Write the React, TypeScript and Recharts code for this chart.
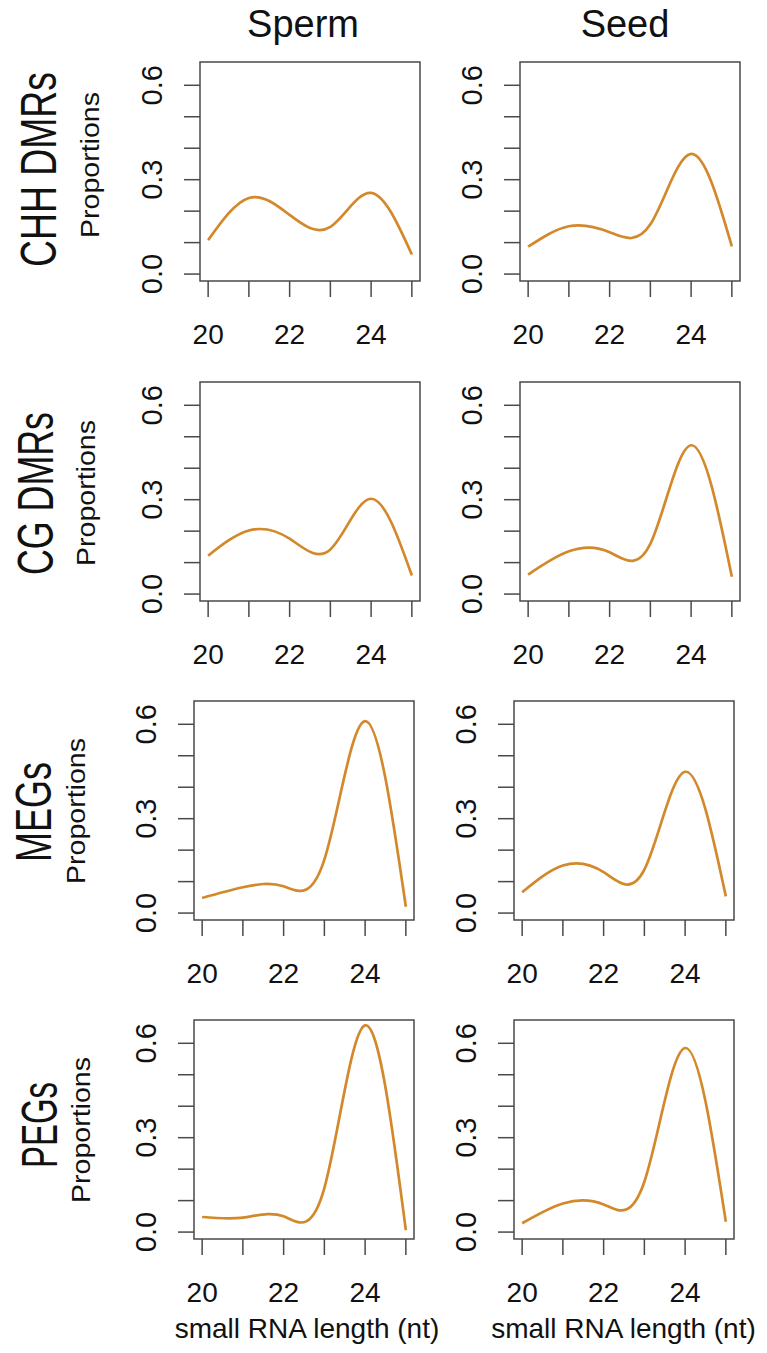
import React from 'react';
import { LineChart, Line, XAxis, YAxis, ReferenceArea } from 'recharts';

// ---- data ----
const lengths = [20, 21, 22, 23, 24, 25];
const spermCHH = [0.108, 0.242, 0.188, 0.15, 0.258, 0.062];
const seedCHH = [0.087, 0.152, 0.133, 0.158, 0.382, 0.088];
const spermCG = [0.122, 0.202, 0.176, 0.142, 0.303, 0.059];
const seedCG = [0.062, 0.136, 0.133, 0.16, 0.473, 0.055];
const spermMEG = [0.048, 0.082, 0.085, 0.17, 0.61, 0.02];
const seedMEG = [0.066, 0.151, 0.13, 0.138, 0.449, 0.053];
const spermPEG = [0.048, 0.046, 0.05, 0.14, 0.657, 0.006];
const seedPEG = [0.028, 0.091, 0.088, 0.16, 0.585, 0.033];

const xTicks = [20, 21, 22, 23, 24, 25];
const xLabels = [20, 22, 24];
const yTicks = [0, 0.1, 0.2, 0.3, 0.4, 0.5, 0.6];
const yLabels = [0, 0.3, 0.6];
const columnTitles = ['Sperm', 'Seed'];
const rowTitles = ['CHH DMRs', 'CG DMRs', 'MEGs', 'PEGs'];
const yAxisTitle = 'Proportions';
const xAxisTitle = 'small RNA length (nt)';

const rowSeries = [
  [spermCHH, seedCHH],
  [spermCG, seedCG],
  [spermMEG, seedMEG],
  [spermPEG, seedPEG],
];

// ---- styles / layout ----
const FONT = '"Liberation Sans", Arial, Helvetica, sans-serif';
const LINE = '#D3892B';
const FRAME = '#4a4a4a';
const X_DOMAIN: [number, number] = [19.8, 25.2];
const Y_DOMAIN: [number, number] = [-0.022, 0.674];

const YW = 80;
const XH = 80;
const MT = 2;
const MR = 3;
const PW = 220;
const PH = 219;

const rowLayout = [
  { lefts: [200, 520], top: 61.7 },
  { lefts: [200, 520], top: 381.7 },
  { lefts: [194, 514.3], top: 701 },
  { lefts: [194, 514.3], top: 1020 },
];
const rowTitleLayout = [
  { bx: 56, cy: 169.5, len: 195 },
  { bx: 53, cy: 493.5, len: 163 },
  { bx: 51, cy: 812, len: 100 },
  { bx: 57, cy: 1125, len: 86 },
];
const propLayout = [
  { bx: 98.5, cy: 165 },
  { bx: 95, cy: 493 },
  { bx: 85, cy: 811 },
  { bx: 90, cy: 1130 },
];

function XTick(props: any) {
  const { x, y, payload } = props;
  if (!xLabels.includes(payload.value)) return <g />;
  return (
    <text x={x} y={y + 47} textAnchor="middle" fontSize={28} fontFamily={FONT} fill="#111">
      {payload.value}
    </text>
  );
}

function YTick(props: any) {
  const { x, y, payload } = props;
  const v = payload.value as number;
  if (!yLabels.some((l) => Math.abs(l - v) < 1e-9)) return <g />;
  return (
    <text
      transform={`translate(${x - 22.5},${y}) rotate(-90)`}
      textAnchor="middle"
      fontSize={29}
      fontFamily={FONT}
      fill="#111"
    >
      {v.toFixed(1)}
    </text>
  );
}

function Panel({ left, top, values }: { left: number; top: number; values: number[] }) {
  const data = lengths.map((x, i) => ({ x, p: values[i] }));
  return (
    <div style={{ position: 'absolute', left: left - YW, top: top - MT }}>
      <LineChart
        width={YW + PW + MR}
        height={MT + PH + XH}
        data={data}
        margin={{ top: MT, right: MR, bottom: 0, left: 0 }}
      >
        <XAxis
          type="number"
          dataKey="x"
          domain={X_DOMAIN}
          ticks={xTicks}
          interval={0}
          allowDataOverflow
          height={XH}
          tickSize={16}
          tickMargin={0}
          axisLine={false}
          tickLine={{ stroke: FRAME, strokeWidth: 1.5 }}
          tick={(p: any) => <XTick {...p} />}
        />
        <YAxis
          type="number"
          domain={Y_DOMAIN}
          ticks={yTicks}
          interval={0}
          allowDataOverflow
          width={YW}
          tickSize={16}
          tickMargin={0}
          axisLine={false}
          tickLine={{ stroke: FRAME, strokeWidth: 1.5 }}
          tick={(p: any) => <YTick {...p} />}
        />
        <ReferenceArea
          x1={X_DOMAIN[0]}
          x2={X_DOMAIN[1]}
          y1={Y_DOMAIN[0]}
          y2={Y_DOMAIN[1]}
          fill="none"
          fillOpacity={0}
          stroke={FRAME}
          strokeWidth={1.5}
          ifOverflow="visible"
        />
        <Line
          type="natural"
          dataKey="p"
          stroke={LINE}
          strokeWidth={2.7}
          dot={false}
          isAnimationActive={false}
        />
      </LineChart>
    </div>
  );
}

export default function App() {
  return (
    <div
      style={{
        position: 'absolute',
        left: 0,
        top: 0,
        width: 767,
        height: 1353,
        background: '#fff',
        overflow: 'hidden',
      }}
    >
      <svg
        width={767}
        height={1353}
        style={{ position: 'absolute', left: 0, top: 0 }}
        fontFamily={FONT}
        fill="#111"
      >
        <text x={303} y={37} textAnchor="middle" fontSize={38}>
          {columnTitles[0]}
        </text>
        <text x={625} y={37} textAnchor="middle" fontSize={38}>
          {columnTitles[1]}
        </text>
        {rowTitles.map((t, i) => (
          <text
            key={t}
            transform={`translate(${rowTitleLayout[i].bx},${rowTitleLayout[i].cy}) rotate(-90)`}
            textAnchor="middle"
            fontSize={50}
            textLength={rowTitleLayout[i].len}
            lengthAdjust="spacingAndGlyphs"
          >
            {t}
          </text>
        ))}
        {propLayout.map((p, i) => (
          <text
            key={i}
            transform={`translate(${p.bx},${p.cy}) rotate(-90)`}
            textAnchor="middle"
            fontSize={26}
            textLength={146}
            lengthAdjust="spacingAndGlyphs"
          >
            {yAxisTitle}
          </text>
        ))}
        <text x={307} y={1338} textAnchor="middle" fontSize={28}>
          {xAxisTitle}
        </text>
        <text x={623.5} y={1338} textAnchor="middle" fontSize={28}>
          {xAxisTitle}
        </text>
      </svg>
      {rowLayout.map((r, ri) =>
        r.lefts.map((l, ci) => (
          <Panel key={`${ri}-${ci}`} left={l} top={r.top} values={rowSeries[ri][ci]} />
        ))
      )}
    </div>
  );
}
